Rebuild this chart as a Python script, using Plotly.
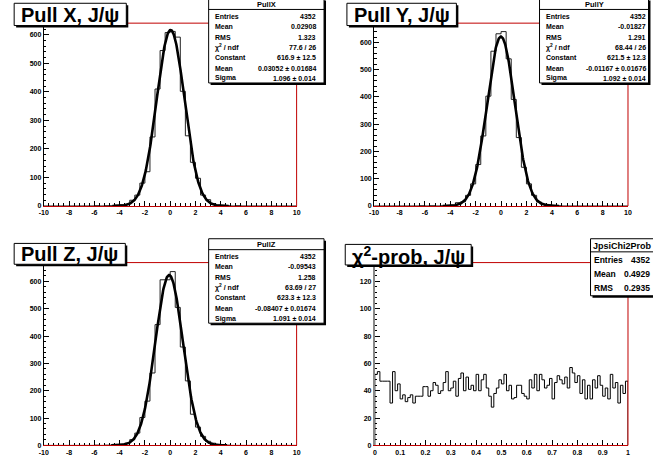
import numpy as np
import plotly.graph_objects as go

W, H = 653, 462

# ---------------- data ----------------
pull_range = (-10.0, 10.0)
pull_nbins = 50
pullx_counts = [0, 0, 0, 0, 0, 0, 0, 0, 0, 0, 1, 0, 1, 1, 3, 4, 6, 20, 38, 80,
                120, 242, 410, 545, 608, 612, 592, 402, 246, 153, 97, 38, 22, 8, 3, 2, 1, 0, 1, 0,
                0, 0, 0, 0, 0, 0, 0, 0, 0, 0]
pully_counts = [0, 0, 0, 0, 0, 0, 0, 0, 0, 1, 0, 1, 0, 1, 2, 3, 12, 15, 39, 81,
                152, 257, 403, 568, 632, 640, 540, 391, 251, 142, 81, 39, 14, 6, 3, 1, 1, 0, 0, 0,
                0, 0, 0, 0, 0, 0, 0, 0, 0, 0]
pullz_counts = [0, 0, 0, 0, 0, 0, 0, 0, 0, 0, 1, 0, 1, 1, 2, 4, 8, 21, 45, 102,
                162, 265, 442, 606, 606, 636, 505, 360, 236, 114, 67, 33, 15, 8, 3, 1, 1, 0, 0, 0,
                0, 0, 0, 0, 0, 0, 0, 0, 0, 0]

chi2_range = (0.0, 1.0)
chi2_nbins = 100
chi2_counts = [52, 54, 47, 47, 47, 47, 31, 54, 40, 45,
               34, 37, 32, 35, 37, 31, 36, 36, 36, 43,
               43, 36, 40, 46, 44, 38, 40, 46, 54, 40,
               42, 47, 36, 49, 53, 40, 50, 41, 44, 40,
               52, 40, 48, 52, 42, 36, 28, 38, 42, 48,
               45, 52, 40, 44, 34, 35, 44, 44, 38, 36,
               34, 48, 42, 52, 40, 52, 48, 42, 44, 49,
               34, 46, 51, 48, 45, 50, 42, 57, 53, 46,
               51, 38, 48, 34, 44, 34, 48, 42, 51, 44,
               36, 42, 34, 52, 42, 46, 31, 44, 38, 47]

# fit parameters (Constant, Mean, Sigma)
fitx = (616.9, 0.03052, 1.096)
fity = (621.5, -0.01167, 1.092)
fitz = (623.3, -0.08407, 1.091)

pull_xticks = [-10, -8, -6, -4, -2, 0, 2, 4, 6, 8, 10]
pull_xticklabels = ["-10", "-8", "-6", "-4", "-2", "0", "2", "4", "6", "8", "10"]
pull_yticks = [0, 100, 200, 300, 400, 500, 600]
pull_yticklabels = ["0", "100", "200", "300", "400", "500", "600"]
chi2_xticks = [0, 0.1, 0.2, 0.3, 0.4, 0.5, 0.6, 0.7, 0.8, 0.9, 1]
chi2_xticklabels = ["0", "0.1", "0.2", "0.3", "0.4", "0.5", "0.6", "0.7", "0.8", "0.9", "1"]
chi2_yticks = [0, 20, 40, 60, 80, 100, 120]
chi2_yticklabels = ["0", "20", "40", "60", "80", "100", "120"]

titles = ["Pull X, J/ψ", "Pull Y, J/ψ", "Pull Z, J/ψ", "χ<sup>2</sup>-prob, J/ψ"]

statx_name = "PullX"
statx_labels = ["Entries", "Mean", "RMS", "χ<sup>2</sup> / ndf", "Constant", "Mean", "Sigma"]
statx_values = ["4352", "0.02908", "1.323", "77.6 / 26", "616.9 ± 12.5", "0.03052 ± 0.01684", "1.096 ± 0.014"]
staty_name = "PullY"
staty_labels = ["Entries", "Mean", "RMS", "χ<sup>2</sup> / ndf", "Constant", "Mean", "Sigma"]
staty_values = ["4352", "-0.01827", "1.291", "68.44 / 26", "621.5 ± 12.3", "-0.01167 ± 0.01676", "1.092 ± 0.014"]
statz_name = "PullZ"
statz_labels = ["Entries", "Mean", "RMS", "χ<sup>2</sup> / ndf", "Constant", "Mean", "Sigma"]
statz_values = ["4352", "-0.09543", "1.258", "63.69 / 27", "623.3 ± 12.3", "-0.08407 ± 0.01674", "1.091 ± 0.014"]
statc_name = "JpsiChi2Prob"
statc_labels = ["Entries", "Mean", "RMS"]
statc_values = ["4352", "0.4929", "0.2935"]

# ---------------- helpers ----------------
FONT = "Liberation Sans, Arial, Helvetica, sans-serif"
RED = "#c00000"


def fx(px):
    return px / W


def fy(py):
    return 1 - py / H


def step_xy(lo, hi, counts, close=False):
    edges = np.linspace(lo, hi, len(counts) + 1)
    xs = list(edges[:-1])
    ys = list(counts)
    xs.append(edges[-1])
    ys.append(counts[-1] if not close else 0)
    if close:
        xs = [edges[0]] + xs
        ys = [0] + ys
    return xs, ys


def gauss_xy(params):
    c, m, s = params
    xs = np.linspace(m - 4.2 * s, m + 4.2 * s, 300)
    return xs, c * np.exp(-0.5 * ((xs - m) / s) ** 2)


fig = go.Figure()

# panel pixel geometry: (left, right, top, bottom)
panels = [
    (39.3, 295.7, 23.3, 207.3),
    (374.3, 631.7, 23.3, 207.3),
    (39.3, 295.7, 264.3, 448.3),
    (375.0, 631.7, 264.3, 448.3),
]
yranges = [641, 671, 669, 133.8]

hists = [pullx_counts, pully_counts, pullz_counts]
fits = [fitx, fity, fitz]

for i in range(3):
    xs, ys = step_xy(pull_range[0], pull_range[1], hists[i])
    fig.add_trace(go.Scatter(x=xs, y=ys, mode="lines", line=dict(shape="hv", color="#222", width=1),
                             xaxis=f"x{i+1}", yaxis=f"y{i+1}", hoverinfo="skip"))
    gx, gy = gauss_xy(fits[i])
    fig.add_trace(go.Scatter(x=gx, y=gy, mode="lines", line=dict(color="black", width=2.6),
                             xaxis=f"x{i+1}", yaxis=f"y{i+1}", hoverinfo="skip"))

xs, ys = step_xy(chi2_range[0], chi2_range[1], chi2_counts, close=True)
fig.add_trace(go.Scatter(x=xs, y=ys, mode="lines", line=dict(shape="hv", color="black", width=1),
                         xaxis="x4", yaxis="y4", hoverinfo="skip"))

tickfont = dict(family=FONT, size=7, color="black", weight="bold")
layout = dict(width=W, height=H, margin=dict(l=0, r=0, t=0, b=0),
              paper_bgcolor="white", plot_bgcolor="white", showlegend=False)

for i, (l, r, t, b) in enumerate(panels):
    k = "" if i == 0 else str(i + 1)
    is_chi = (i == 3)
    layout["xaxis" + k] = dict(
        domain=[fx(l), fx(r)], anchor="y" + k,
        range=list(chi2_range if is_chi else pull_range),
        tickvals=chi2_xticks if is_chi else pull_xticks,
        ticktext=chi2_xticklabels if is_chi else pull_xticklabels,
        ticks="inside", ticklen=5, tickcolor="black", tickwidth=1,
        minor=dict(dtick=0.02 if is_chi else 0.4, tick0=0, ticks="inside", ticklen=2.5, tickcolor="black"),
        showline=True, linecolor=RED, linewidth=1, showgrid=False, zeroline=False,
        tickfont=tickfont, fixedrange=True)
    layout["yaxis" + k] = dict(
        domain=[fy(b), fy(t)], anchor="x" + k,
        range=[0, yranges[i]],
        tickvals=chi2_yticks if is_chi else pull_yticks,
        ticktext=chi2_yticklabels if is_chi else pull_yticklabels,
        ticks="inside", ticklen=5, tickcolor="black", tickwidth=1,
        minor=dict(dtick=4 if is_chi else 20, tick0=0, ticks="inside", ticklen=2.5, tickcolor="black"),
        showline=True, linecolor="#888" if is_chi else "black", linewidth=2 if is_chi else 1,
        showgrid=False, zeroline=False,
        tickfont=tickfont, fixedrange=True)

shapes = []
annotations = []

# frame top & right lines
for (l, r, t, b) in panels:
    shapes.append(dict(type="line", xref="paper", yref="paper", x0=fx(l), x1=fx(r), y0=fy(t), y1=fy(t),
                       line=dict(color=RED, width=1)))
    shapes.append(dict(type="line", xref="paper", yref="paper", x0=fx(r), x1=fx(r), y0=fy(t), y1=fy(b),
                       line=dict(color=RED, width=1)))


def box(x0, y0, x1, y1, shadow=2):
    shapes.append(dict(type="rect", xref="paper", yref="paper",
                       x0=fx(x0 + shadow), x1=fx(x1 + shadow), y0=fy(y1 + shadow), y1=fy(y0 + shadow),
                       fillcolor="black", line=dict(width=0)))
    shapes.append(dict(type="rect", xref="paper", yref="paper",
                       x0=fx(x0), x1=fx(x1), y0=fy(y1), y1=fy(y0),
                       fillcolor="white", line=dict(color="black", width=1)))


def text(x, y, s, size, anchor="left"):
    annotations.append(dict(xref="paper", yref="paper", x=fx(x), y=fy(y), text="<b>" + s + "</b>",
                            showarrow=False, xanchor=anchor, yanchor="middle",
                            font=dict(family=FONT, size=size, color="black"), borderpad=0))


# title boxes
title_boxes = [(9.3, 3.3, 123.0, 25.7), (346.7, 3.3, 457.7, 25.7), (9.3, 245.0, 122.0, 266.0),
               (345.0, 246.0, 472.7, 266.7)]
for (x0, y0, x1, y1), s in zip(title_boxes, titles):
    box(x0, y0, x1, y1, shadow=2)
    text((x0 + x1) / 2, (y0 + y1) / 2 + 0.5, s, 20, anchor="center")

# stat boxes for pulls
row_off = [18.0, 28.4, 38.8, 49.2, 59.6, 70.0, 80.4]


def pull_stat(x0, x1, top, name, labels, values, lab_x, val_x):
    box(x0, top, x1, top + 85, shadow=2)
    shapes.append(dict(type="line", xref="paper", yref="paper", x0=fx(x0), x1=fx(x1),
                       y0=fy(top + 11), y1=fy(top + 11), line=dict(color="black", width=1)))
    text((x0 + x1) / 2, top + 6, name, 7.5, anchor="center")
    for off, lab, val in zip(row_off, labels, values):
        text(lab_x, top + off, lab, 7)
        text(val_x, top + off, val, 7, anchor="right")


pull_stat(206.5, 323.5, -1.5, statx_name, statx_labels, statx_values, 211.5, 316.0)
pull_stat(542.0, 652.5, -1.5, staty_name, staty_labels, staty_values, 547.5, 651.0)
pull_stat(206.5, 323.5, 240.3, statz_name, statz_labels, statz_values, 211.5, 316.0)

# chi2 stat box
box(593.7, 240.3, 668.0, 297.7, shadow=2)
shapes.append(dict(type="line", xref="paper", yref="paper", x0=fx(593.7), x1=fx(668.0),
                   y0=fy(253.5), y1=fy(253.5), line=dict(color="black", width=1)))
text(595.0, 247.5, statc_name, 9)
for yy, lab, val in zip([261.5, 275.5, 289.5], statc_labels, statc_values):
    text(596.0, yy, lab, 8.5)
    text(655.0, yy, val, 8.5, anchor="right")

layout["shapes"] = shapes
layout["annotations"] = annotations
fig.update_layout(**layout)
fig.write_html("out.html", config={"displayModeBar": False},
               post_script="document.body.style.margin='0';")
